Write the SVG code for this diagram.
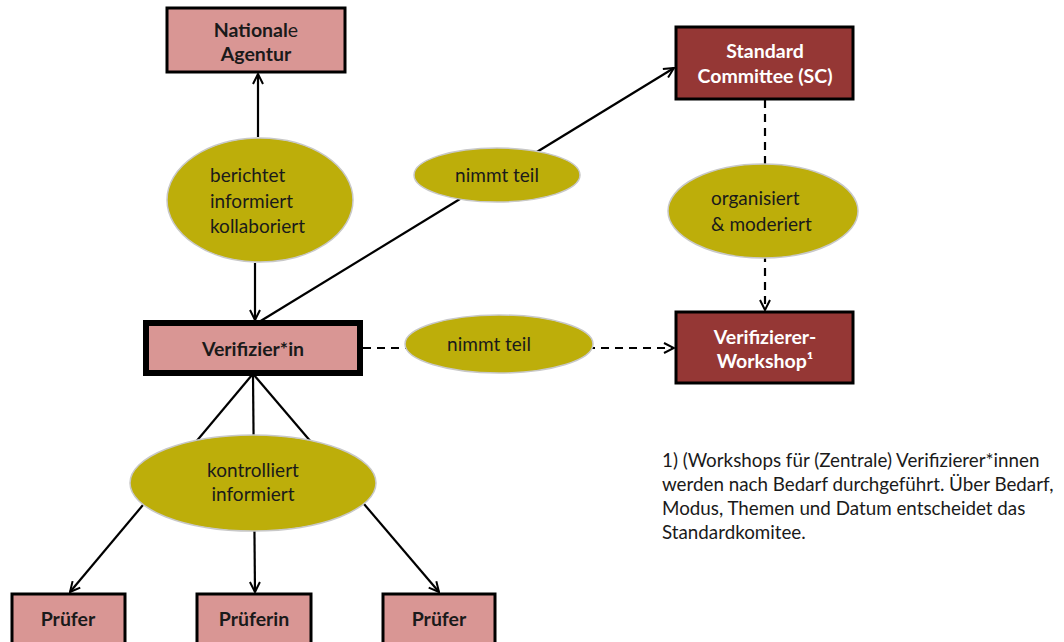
<svg xmlns="http://www.w3.org/2000/svg" width="1064" height="642" viewBox="0 0 1064 642">
<defs>
<style>
.light{fill:#d99694;stroke:#000;stroke-width:3}
.dark{fill:#953735;stroke:#000;stroke-width:3}
.ell{fill:#bdae0a;stroke:#c8c8c8;stroke-width:1.5}
.bt{font-family:Lato,"Liberation Sans",sans-serif;font-weight:bold;font-size:19.5px;text-anchor:middle;fill:#1a1a1a}
.wt{font-family:Lato,"Liberation Sans",sans-serif;font-weight:bold;font-size:19.5px;text-anchor:middle;fill:#fff}
.et{font-family:Lato,"Liberation Sans",sans-serif;font-size:19px;fill:#1a1a1a}
.line{stroke:#000;stroke-width:2.2;fill:none}
.dash{stroke-dasharray:8 6}
.note{font-family:Lato,"Liberation Sans",sans-serif;font-size:18.8px;fill:#1a1a1a}
</style>
<marker id="arr" viewBox="0 0 12 12" refX="11" refY="6" markerWidth="12" markerHeight="12" markerUnits="userSpaceOnUse" orient="auto">
<path d="M1,1 L11,6 L1,11" fill="none" stroke="#000" stroke-width="2"/>
</marker>
</defs>
<g id="connectors">
<line class="line" x1="258" y1="137" x2="258" y2="74" marker-end="url(#arr)"/>
<line class="line" x1="255" y1="263" x2="255" y2="320" marker-end="url(#arr)"/>
<line class="line" x1="259" y1="322" x2="674" y2="68" marker-end="url(#arr)"/>
<line class="line dash" x1="363" y1="348" x2="674" y2="348" marker-end="url(#arr)"/>
<line class="line dash" x1="765" y1="100" x2="765" y2="310" marker-end="url(#arr)"/>
<line class="line" x1="252" y1="375" x2="70" y2="592" marker-end="url(#arr)"/>
<line class="line" x1="253" y1="375" x2="255" y2="592" marker-end="url(#arr)"/>
<line class="line" x1="254" y1="375" x2="439" y2="592" marker-end="url(#arr)"/>
</g>
<g id="nationale-agentur">
<rect class="light" x="167" y="8" width="178" height="64"/>
<text class="bt" x="256" y="37">National<tspan font-weight="normal">e</tspan></text>
<text class="bt" x="256" y="61">Agentur</text>
</g>
<g id="standard-committee">
<rect class="dark" x="676" y="27" width="177" height="72"/>
<text class="wt" x="765" y="58">Standard</text>
<text class="wt" x="765" y="83">Committee (SC)</text>
</g>
<g id="verifizierin">
<rect fill="#d99694" stroke="#000" stroke-width="6" x="146" y="323" width="214" height="50"/>
<text class="bt" x="253" y="356">Verifizier*in</text>
</g>
<g id="workshop">
<rect class="dark" x="676" y="312" width="177" height="71"/>
<text class="wt" x="765" y="344">Verifizierer-</text>
<text class="wt" x="765" y="368">Workshop¹</text>
</g>
<g id="pruefer1">
<rect class="light" x="12" y="594" width="113" height="60"/>
<text class="bt" x="68" y="626">Prüfer</text>
</g>
<g id="prueferin">
<rect class="light" x="197" y="594" width="114" height="60"/>
<text class="bt" x="254" y="626">Prüferin</text>
</g>
<g id="pruefer2">
<rect class="light" x="383" y="594" width="112" height="60"/>
<text class="bt" x="439" y="626">Prüfer</text>
</g>
<g id="e-berichtet">
<ellipse class="ell" cx="260" cy="200" rx="93" ry="62"/>
<text class="et" x="210" y="182">berichtet</text>
<text class="et" x="210" y="208">informiert</text>
<text class="et" x="210" y="233">kollaboriert</text>
</g>
<g id="e-nimmt-teil-1">
<ellipse class="ell" cx="497" cy="175" rx="83" ry="27"/>
<text class="et" x="497" y="182" text-anchor="middle">nimmt teil</text>
</g>
<g id="e-organisiert">
<ellipse class="ell" cx="763" cy="211" rx="95" ry="47"/>
<text class="et" x="711" y="205">organisiert</text>
<text class="et" x="711" y="231">&amp; moderiert</text>
</g>
<g id="e-nimmt-teil-2">
<ellipse class="ell" cx="499" cy="344" rx="94" ry="29"/>
<text class="et" x="489" y="351" text-anchor="middle">nimmt teil</text>
</g>
<g id="e-kontrolliert">
<ellipse class="ell" cx="253" cy="483" rx="123" ry="48"/>
<text class="et" x="253" y="477" text-anchor="middle">kontrolliert</text>
<text class="et" x="253" y="501" text-anchor="middle">informiert</text>
</g>
<g id="footnote">
<text class="note" x="662" y="467">1) (Workshops für (Zentrale) Verifizierer*innen</text>
<text class="note" x="662" y="491">werden nach Bedarf durchgeführt. Über Bedarf,</text>
<text class="note" x="662" y="515">Modus, Themen und Datum entscheidet das</text>
<text class="note" x="662" y="539">Standardkomitee.</text>
</g>
</svg>
